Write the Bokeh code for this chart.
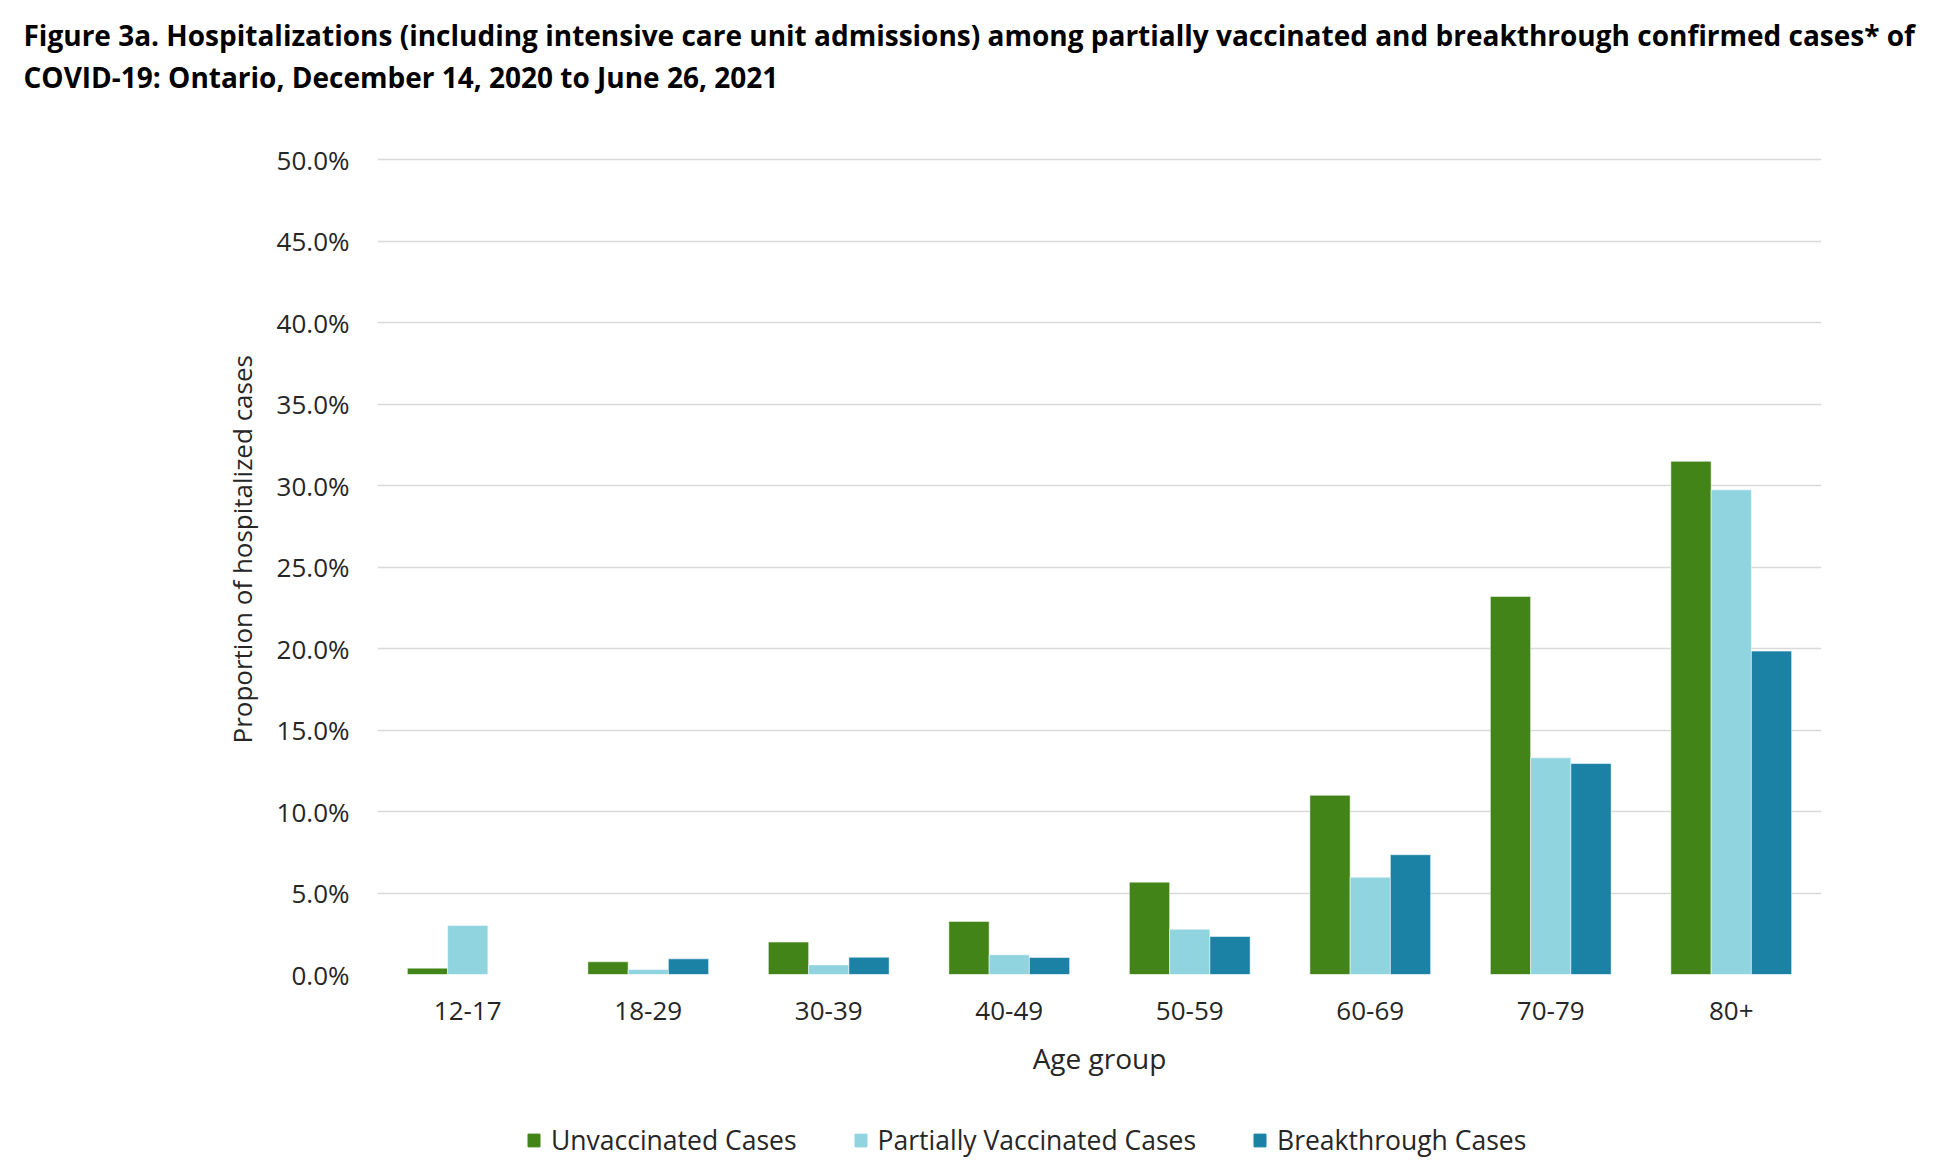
from bokeh.plotting import figure
from bokeh.models import (FactorRange, Range1d, FixedTicker, PrintfTickFormatter,
                          Legend, LegendItem, Title, ColumnDataSource)
from bokeh.layouts import column
from bokeh.transform import dodge
from bokeh.embed import file_html
from bokeh.resources import INLINE

# ---- data ----
age_groups = ["12-17", "18-29", "30-39", "40-49", "50-59", "60-69", "70-79", "80+"]
unvaccinated = [0.39, 0.78, 1.99, 3.26, 5.67, 11.0, 23.2, 31.5]
partially_vaccinated = [3.01, 0.31, 0.59, 1.21, 2.78, 5.97, 13.3, 29.75]
breakthrough = [0.0, 0.96, 1.06, 1.04, 2.33, 7.35, 12.95, 19.85]
series_names = ["Unvaccinated Cases", "Partially Vaccinated Cases", "Breakthrough Cases"]
y_ticks = [0, 5, 10, 15, 20, 25, 30, 35, 40, 45, 50]
title_lines = [
    "Figure 3a. Hospitalizations (including intensive care unit admissions) among partially vaccinated and breakthrough confirmed cases* of",
    "COVID-19: Ontario, December 14, 2020 to June 26, 2021",
]
x_title = "Age group"
y_title = "Proportion of hospitalized cases"

colors = ["#428417", "#90D4DF", "#1B82A6"]
TXT = "#262626"

source = ColumnDataSource(dict(age=age_groups, u=unvaccinated, p=partially_vaccinated, b=breakthrough))

TOTAL_W = 1944
FL, FT = 377, 157
FW, FH = 1444, 817
BOTTOM = 130
H2 = 1172 - (FT + FH + BOTTOM)

x_range = FactorRange(*age_groups)
p = figure(x_range=x_range, y_range=Range1d(0, 50.15),
           frame_width=FW, frame_height=FH,
           min_border_left=FL, min_border_right=TOTAL_W - FL - FW,
           min_border_top=FT, min_border_bottom=BOTTOM,
           output_backend="svg", toolbar_location=None, background_fill_color="white",
           border_fill_color="white")
p.outline_line_color = None

bw = 0.223
cols = ["u", "p", "b"]
offsets = [-bw, 0, bw]
for col, off, c in zip(cols, offsets, colors):
    p.vbar(x=dodge("age", off, range=x_range), top=col, width=bw, source=source,
           fill_color=c, line_color="white", line_alpha=0.5, line_width=1)

# grid
p.xgrid.grid_line_color = None
p.ygrid.grid_line_color = "#D9D9D9"
p.ygrid.grid_line_width = 1.4

# axes
p.yaxis.ticker = FixedTicker(ticks=y_ticks)
p.yaxis.formatter = PrintfTickFormatter(format="%.1f%%")
for ax in (p.xaxis, p.yaxis):
    ax.axis_line_color = None
    ax.major_tick_line_color = None
    ax.minor_tick_line_color = None
    ax.major_tick_in = 0
    ax.major_tick_out = 0
    ax.major_label_text_font = "Open Sans"
    ax.major_label_text_font_size = "26px"
    ax.major_label_text_color = TXT
    ax.axis_label_text_font = "Open Sans"
    ax.axis_label_text_font_style = "normal"
    ax.axis_label_text_color = TXT
p.yaxis.major_label_standoff = 28
p.xaxis.major_label_standoff = 27
p.xaxis.axis_label = x_title
p.xaxis.axis_label_text_font_size = "28px"
p.xaxis.axis_label_standoff = 16

# y-axis title as a side title so it can sit slightly above centre like the reference
p.add_layout(Title(text=y_title, align="left", offset=231, standoff=28,
                   text_font="Open Sans", text_font_style="normal", text_font_size="26px",
                   text_color=TXT), "left")

# title lines (inner line added first)
def make_title(txt, standoff):
    return Title(text=txt, align="left", offset=23 - FL, standoff=standoff,
                 text_font="Open Sans", text_font_style="bold", text_font_size="28px",
                 text_color="black")

t2 = make_title(title_lines[1], 0)
padded = False
if "padding" in Title.properties():
    try:
        t2.padding = dict(left=0, right=0, top=0, bottom=62)
        padded = True
    except Exception:
        padded = False
if not padded:
    t2.standoff = 4
    p.add_layout(Title(text=" ", text_font_size="10px", standoff=43), "above")
p.add_layout(t2, "above")
p.add_layout(make_title(title_lines[0], 4), "above")

# legend strip below the chart (its frame lines up with the chart's frame)
p2 = figure(width=TOTAL_W, height=H2, x_range=x_range, y_range=Range1d(1000, 1001),
            x_axis_type=None, y_axis_type=None, min_border=0,
            output_backend="svg", toolbar_location=None,
            background_fill_color="white", border_fill_color="white")
p2.outline_line_color = None
p2.grid.visible = False
leg_renderers = []
for col, off, c in zip(cols, offsets, colors):
    leg_renderers.append(p2.vbar(x=dodge("age", off, range=x_range), top=col, width=bw,
                                 source=source, fill_color=c, line_color=c))

legend = Legend(items=[LegendItem(label=n, renderers=[r]) for n, r in zip(series_names, leg_renderers)],
                orientation="horizontal", location=(149, 14),
                glyph_width=15, glyph_height=16, label_standoff=10, spacing=56,
                padding=0, margin=0, border_line_alpha=0, background_fill_alpha=0,
                label_text_font="Open Sans", label_text_font_size="26.5px",
                label_text_color=TXT)
p2.add_layout(legend, "center")

layout = column(p, p2, spacing=0)
open("out.html", "w").write(file_html(layout, INLINE))
